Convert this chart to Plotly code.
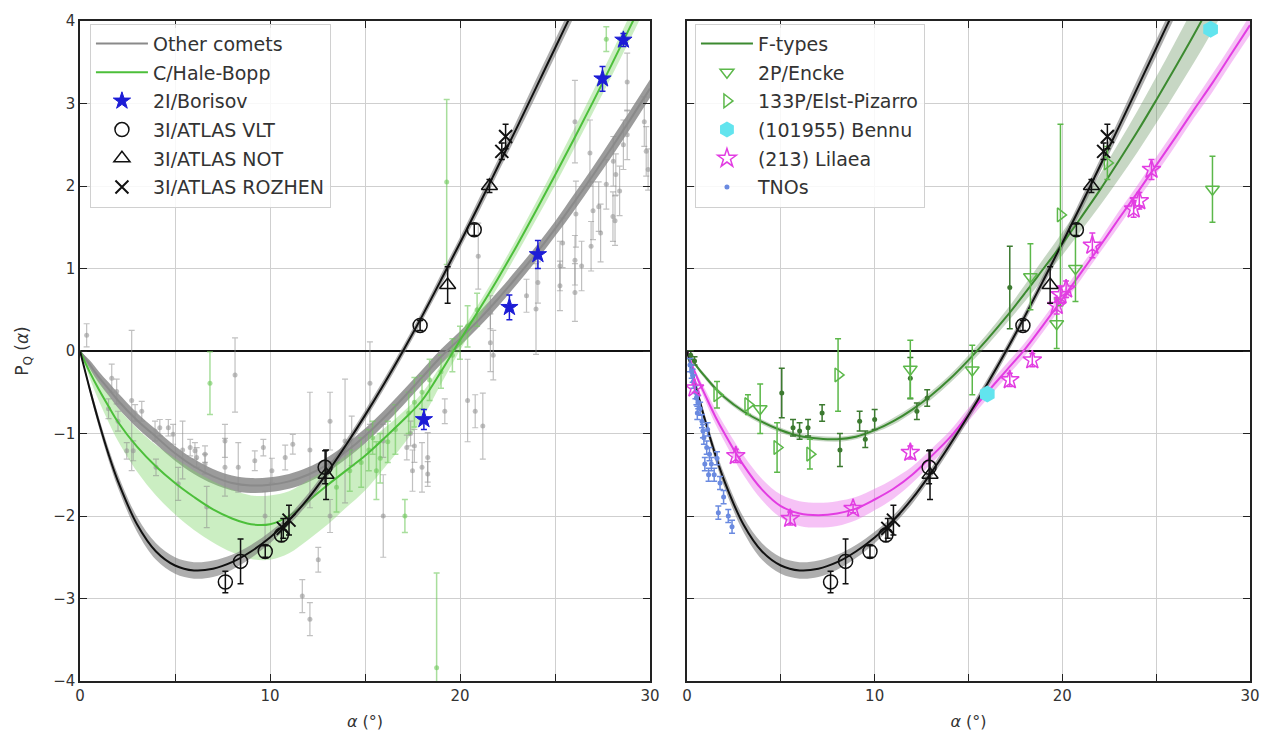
import plotly.graph_objects as go

# ---------------- curves ----------------
ang_c = [0, 0.5, 1, 1.5, 2, 3, 4, 5, 6, 7, 8, 9, 10, 11, 12, 13, 14, 15, 16, 17, 18, 19, 20, 21, 22, 23, 24, 25, 26, 27, 28, 29, 30]
atlas_fit = [0, -0.45, -0.87, -1.25, -1.58, -2.1, -2.43, -2.6, -2.66, -2.64, -2.56, -2.43, -2.26, -2.05, -1.79, -1.48, -1.14, -0.78, -0.4, 0.0, 0.42, 0.86, 1.31, 1.77, 2.24, 2.71, 3.19, 3.67, 4.15, 4.63, 5.1, 5.6, 6.1]
atlas_band = [0, 0.04, 0.06, 0.07, 0.08, 0.09, 0.1, 0.1, 0.1, 0.1, 0.09, 0.08, 0.07, 0.06, 0.06, 0.06, 0.06, 0.06, 0.06, 0.06, 0.06, 0.07, 0.07, 0.08, 0.08, 0.09, 0.1, 0.1, 0.1, 0.1, 0.1, 0.1, 0.1]
comets_fit = [0, -0.16, -0.32, -0.46, -0.6, -0.84, -1.04, -1.24, -1.4, -1.52, -1.6, -1.63, -1.62, -1.58, -1.5, -1.38, -1.22, -1.03, -0.81, -0.57, -0.32, -0.07, 0.15, 0.38, 0.63, 0.9, 1.18, 1.48, 1.8, 2.13, 2.47, 2.82, 3.18]
comets_band = [0, 0.05, 0.07, 0.08, 0.09, 0.09, 0.09, 0.09, 0.09, 0.09, 0.09, 0.09, 0.09, 0.09, 0.09, 0.09, 0.09, 0.09, 0.09, 0.09, 0.09, 0.09, 0.09, 0.09, 0.09, 0.09, 0.09, 0.09, 0.1, 0.1, 0.11, 0.11, 0.11]
hb_fit = [0, -0.25, -0.47, -0.67, -0.86, -1.16, -1.4, -1.6, -1.77, -1.92, -2.03, -2.1, -2.1, -2.0, -1.82, -1.63, -1.45, -1.27, -1.06, -0.84, -0.6, -0.25, 0.13, 0.5, 0.88, 1.28, 1.7, 2.13, 2.57, 3.02, 3.48, 3.95, 4.42]
hb_up = [0, 0.05, 0.1, 0.14, 0.17, 0.22, 0.26, 0.3, 0.32, 0.34, 0.35, 0.35, 0.35, 0.3, 0.25, 0.2, 0.18, 0.15, 0.12, 0.1, 0.09, 0.08, 0.08, 0.08, 0.08, 0.09, 0.1, 0.11, 0.12, 0.13, 0.14, 0.15, 0.15]
hb_dn = [0, 0.07, 0.14, 0.19, 0.23, 0.3, 0.35, 0.38, 0.4, 0.4, 0.41, 0.42, 0.43, 0.45, 0.47, 0.48, 0.45, 0.42, 0.36, 0.3, 0.22, 0.15, 0.12, 0.1, 0.1, 0.1, 0.11, 0.12, 0.12, 0.13, 0.14, 0.15, 0.15]
ftype_fit = [0, -0.18, -0.32, -0.45, -0.56, -0.73, -0.86, -0.96, -1.03, -1.06, -1.07, -1.04, -0.96, -0.85, -0.71, -0.54, -0.34, -0.11, 0.14, 0.41, 0.7, 1.0, 1.3, 1.62, 1.95, 2.3, 2.66, 3.04, 3.43, 3.83, 4.25, 4.7, 5.15]
ftype_band = [0, 0.02, 0.03, 0.03, 0.03, 0.03, 0.03, 0.03, 0.03, 0.03, 0.03, 0.03, 0.03, 0.04, 0.04, 0.05, 0.05, 0.06, 0.07, 0.08, 0.1, 0.12, 0.14, 0.16, 0.19, 0.22, 0.25, 0.28, 0.31, 0.34, 0.37, 0.4, 0.43]
lilaea_fit = [0, -0.3, -0.55, -0.79, -1.0, -1.38, -1.68, -1.88, -1.97, -1.99, -1.97, -1.91, -1.8, -1.67, -1.5, -1.28, -1.05, -0.77, -0.5, -0.24, 0.02, 0.32, 0.63, 0.95, 1.27, 1.6, 1.92, 2.25, 2.58, 2.92, 3.25, 3.6, 3.95]
lilaea_band = [0, 0.04, 0.07, 0.09, 0.1, 0.12, 0.13, 0.14, 0.15, 0.15, 0.15, 0.14, 0.13, 0.12, 0.1, 0.09, 0.08, 0.08, 0.08, 0.08, 0.08, 0.08, 0.08, 0.08, 0.08, 0.09, 0.09, 0.1, 0.1, 0.1, 0.11, 0.11, 0.12]

# ---------------- data points ----------------
comets_a = [0.35, 1.67, 1.93, 1.5, 2.0, 2.72, 2.9, 3.25, 2.46, 2.8, 3.95, 4.2, 4.65, 4.9, 5.4, 5.17, 4.0, 5.8, 6.05, 6.14, 6.58, 6.58, 6.67, 7.63, 7.63, 8.16, 8.33, 9.2, 9.65, 9.74, 10.1, 10.8, 11.2, 12.1, 12.54, 13.16, 13.16, 13.95, 14.3, 15.26, 15.96, 15.96, 17.2, 11.7, 12.1, 17.4, 17.6, 17.5, 18.0, 18.3, 18.3, 19.2, 20.4, 20.8, 21.2, 21.6, 21.75, 20.96, 21.6, 23.5, 24.0, 24.1, 25.26, 25.26, 25.4, 26.05, 26.05, 26.4, 26.05, 26.84, 26.1, 27.0, 27.3, 27.4, 26.9, 27.7, 28.05, 28.07, 28.2, 28.4, 28.16, 28.6, 28.8, 28.8, 29.7, 29.8, 29.9]
comets_p = [0.19, -0.33, -0.49, -0.7, -0.85, -0.6, -0.75, -0.73, -1.21, -1.21, -0.97, -0.93, -0.93, -1.01, -1.2, -1.61, -1.41, -1.17, -1.21, -1.29, -1.25, -1.37, -1.89, -1.09, -1.41, -0.29, -1.41, -1.33, -1.17, -2.0, -1.45, -1.29, -1.13, -1.2, -2.53, -0.85, -2.0, -1.09, -1.09, -0.39, -1.09, -2.0, -1.17, -2.97, -3.25, -1.0, -1.15, -1.45, -1.41, -1.29, -1.49, -0.73, -0.6, -0.73, -0.91, 0.1, -0.05, 1.15, 0.47, 0.67, 0.51, 0.83, 1.03, 0.79, 1.31, 1.1, 0.71, 1.03, 2.78, 2.4, 1.66, 1.7, 1.75, 1.43, 1.27, 2.02, 1.63, 2.3, 2.14, 1.94, 1.58, 2.5, 2.62, 3.26, 2.78, 2.42, 2.2]
comets_e = [0.14, 0.17, 0.15, 0.12, 0.12, 0.85, 0.1, 0.12, 0.1, 0.12, 0.12, 0.1, 0.1, 0.12, 0.35, 0.2, 0.1, 0.1, 0.1, 0.12, 0.1, 0.12, 0.25, 0.2, 0.35, 0.45, 0.3, 0.12, 0.1, 0.3, 0.15, 0.15, 0.12, 0.7, 0.15, 0.35, 0.2, 0.75, 0.3, 0.5, 0.2, 0.5, 0.15, 0.2, 0.2, 0.15, 0.2, 0.25, 0.3, 0.3, 0.15, 0.15, 0.5, 0.2, 0.4, 0.35, 0.3, 0.4, 0.2, 0.2, 0.55, 0.25, 0.3, 0.3, 0.3, 0.3, 0.35, 0.3, 0.5, 0.4, 0.4, 0.35, 0.3, 0.35, 0.3, 0.3, 0.3, 0.3, 0.25, 0.3, 0.3, 0.3, 0.3, 0.35, 0.3, 0.3, 0.25]

hb_a = [6.84, 13.5, 14.2, 14.8, 15.2, 15.4, 15.6, 15.8, 16.2, 16.6, 17.1, 17.3, 17.6, 18.0, 18.4, 18.77, 19.0, 19.3, 19.6, 20.0, 20.4, 20.9, 27.7]
hb_p = [-0.39, -1.65, -1.45, -1.35, -1.2, -1.05, -1.45, -1.3, -1.1, -0.95, -2.0, -0.75, -0.62, -0.5, -0.35, -3.84, -0.25, 2.05, -0.05, 0.1, 0.3, 0.5, 3.78]
hb_e = [0.38, 0.3, 0.25, 0.3, 0.25, 0.2, 0.35, 0.3, 0.25, 0.3, 0.2, 0.25, 0.3, 0.2, 0.25, 1.15, 0.2, 1.0, 0.2, 0.2, 0.25, 0.2, 0.15]

borisov_a = [18.1, 22.6, 24.1, 27.5, 28.6]
borisov_p = [-0.83, 0.53, 1.17, 3.3, 3.77]
borisov_e = [0.12, 0.15, 0.17, 0.15, 0.08]

vlt_a = [7.65, 8.45, 9.75, 10.6, 12.9, 17.9, 20.75]
vlt_p = [-2.8, -2.55, -2.43, -2.23, -1.41, 0.31, 1.47]
vlt_e = [0.13, 0.27, 0.07, 0.08, 0.2, 0.06, 0.07]
not_a = [12.95, 19.35, 21.55]
not_p = [-1.5, 0.8, 2.0]
not_e = [0.3, 0.22, 0.08]
roz_a = [10.7, 11.0, 22.2, 22.4]
roz_p = [-2.15, -2.05, 2.42, 2.6]
roz_e = [0.12, 0.18, 0.1, 0.15]

encke_a = [3.9, 11.9, 15.2, 18.3, 19.7, 20.7, 28.0]
encke_p = [-0.7, -0.22, -0.23, 0.9, 0.33, 1.0, 1.96]
encke_e = [0.3, 0.35, 0.3, 0.4, 0.3, 0.4, 0.4]
elst_a = [1.6, 3.25, 4.8, 6.55, 8.05, 19.9, 22.4]
elst_p = [-0.53, -0.65, -1.17, -1.25, -0.29, 1.65, 2.28]
elst_e = [0.16, 0.12, 0.3, 0.18, 0.44, 1.1, 0.2]
fdat_a = [0.2, 0.4, 5.05, 5.65, 6.0, 6.45, 7.2, 8.15, 9.2, 9.5, 10.0, 11.9, 12.25, 12.8, 17.2]
fdat_p = [-0.05, -0.12, -0.51, -0.93, -0.97, -0.93, -0.75, -1.2, -0.85, -1.07, -0.83, -0.33, -0.73, -0.57, 0.77]
fdat_e = [0.05, 0.05, 0.3, 0.1, 0.1, 0.1, 0.1, 0.2, 0.12, 0.1, 0.12, 0.25, 0.1, 0.1, 0.5]
bennu_a = [16.0, 27.9]
bennu_p = [-0.52, 3.9]
lilaea_a = [0.4, 2.6, 5.5, 8.85, 11.9, 17.2, 18.4, 19.7, 19.9, 20.2, 21.6, 23.8, 24.1, 24.75]
lilaea_p = [-0.45, -1.27, -2.03, -1.91, -1.23, -0.35, -0.11, 0.55, 0.68, 0.75, 1.28, 1.72, 1.82, 2.2]
lilaea_e = [0.05, 0.08, 0.08, 0.05, 0.08, 0.08, 0.08, 0.1, 0.1, 0.1, 0.15, 0.1, 0.1, 0.12]
tno_a = [0.16, 0.25, 0.3, 0.34, 0.45, 0.5, 0.55, 0.6, 0.7, 0.8, 0.85, 0.9, 0.95, 1.05, 1.1, 1.15, 1.2, 1.3, 1.45, 1.6, 1.67, 1.76, 1.95, 2.2, 2.4]
tno_p = [-0.17, -0.25, -0.3, -0.37, -0.5, -0.57, -0.75, -0.62, -0.7, -0.85, -0.97, -1.05, -1.37, -1.17, -0.95, -1.5, -1.25, -1.37, -1.5, -1.3, -1.96, -1.6, -1.77, -2.0, -2.13]
tno_e = [0.08] * 25

x_ticks = [0, 10, 20, 30]
x_minor_ticks = [5, 15, 25]
y_ticks = [-4, -3, -2, -1, 0, 1, 2, 3, 4]

FONT = "DejaVu Sans"
fig = go.Figure()


def band(xa, ya, fit, up, dn, color, legend):
    upper = [f + u for f, u in zip(fit, up)]
    lower = [f - d for f, d in zip(fit, dn)]
    fig.add_trace(go.Scatter(x=ang_c, y=upper, xaxis=xa, yaxis=ya, mode="lines", line=dict(width=0, shape="spline"),
                             showlegend=False, hoverinfo="skip", legend=legend))
    fig.add_trace(go.Scatter(x=ang_c, y=lower, xaxis=xa, yaxis=ya, mode="lines", line=dict(width=0, shape="spline"),
                             fill="tonexty", fillcolor=color, showlegend=False, hoverinfo="skip", legend=legend))


def curve(xa, ya, fit, color, name, legend, show, rank=1):
    fig.add_trace(go.Scatter(x=ang_c, y=fit, xaxis=xa, yaxis=ya, mode="lines", name=name,
                             line=dict(color=color, width=2, shape="spline"), showlegend=show,
                             legend=legend, legendgroup=name + legend, legendrank=rank))


def pts(xa, ya, a, p, e, name, legend, show, rank, sym, size, color, ecolor, lw=1.5, ethick=1.5, fillc=None):
    fig.add_trace(go.Scatter(x=a, y=p, xaxis=xa, yaxis=ya, mode="markers", name=name,
                             marker=dict(symbol=sym, size=size, color=fillc if fillc else color,
                                         line=dict(color=color, width=lw)),
                             error_y=dict(type="data", array=e, color=ecolor, thickness=ethick, width=3) if e else None,
                             showlegend=show, legend=legend, legendgroup=name + legend, legendrank=rank))


# ---------- left panel ----------
band("x", "y", comets_fit, comets_band, comets_band, "rgba(130,130,130,0.8)", "legend")
band("x", "y", hb_fit, hb_up, hb_dn, "rgba(130,215,110,0.42)", "legend")
pts("x", "y", comets_a, comets_p, comets_e, "Other comets pts", "legend", False, 50, "circle", 5,
    "rgba(150,150,150,0.6)", "rgba(140,140,140,0.55)", lw=0, ethick=1.2)
pts("x", "y", hb_a, hb_p, hb_e, "Hale-Bopp pts", "legend", False, 50, "circle", 5,
    "rgba(110,200,90,0.6)", "rgba(110,200,90,0.6)", lw=0, ethick=1.5)
curve("x", "y", comets_fit, "#8a8a8a", "Other comets", "legend", True, 1)
curve("x", "y", hb_fit, "#4cbf3a", "C/Hale-Bopp", "legend", True, 2)
band("x", "y", atlas_fit, atlas_band, atlas_band, "rgba(120,120,120,0.6)", "legend")
curve("x", "y", atlas_fit, "#111111", "3I fit", "legend", False, 60)
pts("x", "y", borisov_a, borisov_p, borisov_e, "2I/Borisov", "legend", True, 3, "star", 13,
    "#1c1cd6", "#1c1cd6", lw=1)
pts("x", "y", vlt_a, vlt_p, vlt_e, "3I/ATLAS VLT", "legend", True, 4, "circle-open", 14, "#111111", "#111111")
pts("x", "y", not_a, not_p, not_e, "3I/ATLAS NOT", "legend", True, 5, "triangle-up-open", 14, "#111111", "#111111")
pts("x", "y", roz_a, roz_p, roz_e, "3I/ATLAS ROZHEN", "legend", True, 6, "x-thin-open", 13, "#111111", "#111111", lw=2)

# ---------- right panel ----------
band("x2", "y2", ftype_fit, ftype_band, ftype_band, "rgba(95,140,85,0.35)", "legend2")
band("x2", "y2", lilaea_fit, lilaea_band, lilaea_band, "rgba(235,120,235,0.45)", "legend2")
band("x2", "y2", atlas_fit, atlas_band, atlas_band, "rgba(120,120,120,0.6)", "legend2")
curve("x2", "y2", ftype_fit, "#3c8a30", "F-types", "legend2", True, 1)
curve("x2", "y2", lilaea_fit, "#e23de2", "Lilaea fit", "legend2", False, 60)
curve("x2", "y2", atlas_fit, "#111111", "3I fit 2", "legend2", False, 61)
pts("x2", "y2", fdat_a, fdat_p, fdat_e, "F pts", "legend2", False, 50, "circle", 5,
    "#3c7a30", "#3c7a30", lw=0)
pts("x2", "y2", tno_a, tno_p, tno_e, "TNOs", "legend2", True, 6, "circle", 5,
    "#6a8ae0", "#6a8ae0", lw=0)
pts("x2", "y2", encke_a, encke_p, encke_e, "2P/Encke", "legend2", True, 2, "triangle-down-open", 12,
    "#5cb84a", "#5cb84a")
pts("x2", "y2", elst_a, elst_p, elst_e, "133P/Elst-Pizarro", "legend2", True, 3, "triangle-right-open", 12,
    "#5cb84a", "#5cb84a")
pts("x2", "y2", bennu_a, bennu_p, None, "(101955) Bennu", "legend2", True, 4, "hexagon", 17,
    "#62e4ee", "#62e4ee", lw=0)
pts("x2", "y2", lilaea_a, lilaea_p, lilaea_e, "(213) Lilaea", "legend2", True, 5, "star-open", 14,
    "#e23de2", "#e23de2")
pts("x2", "y2", vlt_a, vlt_p, vlt_e, "VLT2", "legend2", False, 70, "circle-open", 14, "#111111", "#111111")
pts("x2", "y2", not_a, not_p, not_e, "NOT2", "legend2", False, 71, "triangle-up-open", 14, "#111111", "#111111")
pts("x2", "y2", roz_a, roz_p, roz_e, "ROZ2", "legend2", False, 72, "x-thin-open", 13, "#111111", "#111111", lw=2)

ax_common = dict(range=[0, 30], tickvals=x_ticks, ticks="inside", ticklen=7, tickwidth=1.3,
                 tickcolor="#222", showline=True, linecolor="#222", linewidth=1.5, mirror="allticks",
                 showgrid=True, gridcolor="#cfcfcf", gridwidth=1, zeroline=False,
                 minor=dict(tickvals=x_minor_ticks, ticks="inside", ticklen=7, tickwidth=1.3, tickcolor="#222",
                            showgrid=True, gridcolor="#cfcfcf", gridwidth=1),
                 tickfont=dict(family=FONT, size=15, color="#333"),
                 title=dict(text="<i>α</i> (°)", font=dict(family=FONT, size=16, color="#333"), standoff=12))
ay_common = dict(range=[-4, 4], tickvals=y_ticks, ticks="inside", ticklen=7, tickwidth=1.3, tickcolor="#222",
                 showline=True, linecolor="#222", linewidth=1.5, mirror="allticks", showgrid=True,
                 gridcolor="#cfcfcf", gridwidth=1, zeroline=True, zerolinecolor="#111", zerolinewidth=2,
                 tickfont=dict(family=FONT, size=15, color="#333"))

leg_common = dict(bgcolor="rgba(255,255,255,0.85)", bordercolor="#d0d0d0", borderwidth=1,
                  font=dict(family=FONT, size=19, color="#333"), xanchor="left", yanchor="top",
                  traceorder="grouped", tracegroupgap=1, itemwidth=52)

fig.update_layout(
    width=1274, height=740,
    margin=dict(l=80, r=24, t=15, b=57),
    paper_bgcolor="white", plot_bgcolor="white",
    xaxis=dict(domain=[0, 0.48718], anchor="y", **ax_common),
    xaxis2=dict(domain=[0.5188, 1], anchor="y2", **ax_common),
    yaxis=dict(domain=[0, 1], anchor="x",
               title=dict(text="P<sub>Q</sub> (<i>α</i>)", font=dict(family=FONT, size=17, color="#333"), standoff=20),
               **ay_common),
    yaxis2=dict(domain=[0, 1], anchor="x2", showticklabels=False, **ay_common),
    legend=dict(x=0.0085, y=0.996, **leg_common),
    legend2=dict(x=0.5256, y=0.996, **leg_common),
)

# remove the browser's default 8px body margin so the figure sits at the page origin
fig.write_html("out.html", config={"displayModeBar": False},
               post_script="document.body.style.margin='0px';")
